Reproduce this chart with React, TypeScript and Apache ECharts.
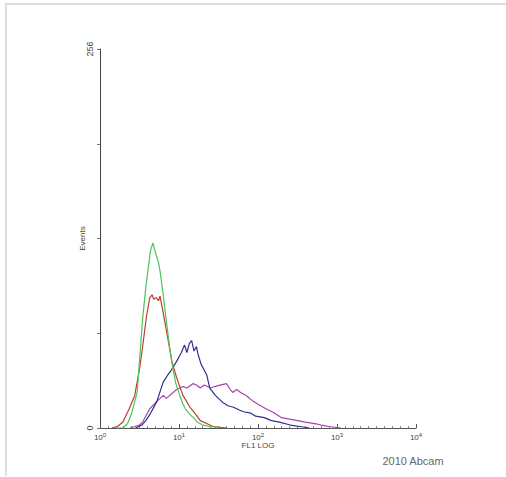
import React, { useEffect, useRef } from "react";
import * as echarts from "echarts";

// x in decades (log10 of FL1), y = events
const greenData: [number, number][] = [[0.2,0],[0.29,0],[0.35,3],[0.4,10],[0.47,24],[0.5,45],[0.54,74],[0.58,95],[0.61,108],[0.64,120],[0.67,125],[0.69,121],[0.71,117],[0.74,112],[0.76,106],[0.8,90],[0.85,68],[0.88,55],[0.92,41],[0.96,30],[1.01,22],[1.05,16],[1.08,13],[1.14,9],[1.2,6],[1.23,4],[1.3,2],[1.4,1],[1.5,0]];
const redData: [number, number][] = [[0.15,0],[0.22,1],[0.29,4],[0.37,13],[0.44,22],[0.5,40],[0.53,51],[0.59,76],[0.63,88],[0.66,90],[0.68,87],[0.71,88],[0.74,86],[0.76,89],[0.8,78],[0.85,63],[0.91,45],[0.97,34],[1.05,22],[1.14,14],[1.2,10],[1.27,5],[1.35,3],[1.43,1],[1.6,0]];
const blueData: [number, number][] = [[0.45,0],[0.53,2],[0.58,5],[0.63,9],[0.72,18],[0.8,31],[0.86,36],[0.89,38],[0.97,45],[1.03,51],[1.07,56],[1.1,51],[1.13,57],[1.16,59],[1.19,52],[1.22,55],[1.24,50],[1.28,43],[1.35,36],[1.39,27],[1.46,22],[1.56,17],[1.62,15],[1.69,14],[1.77,12],[1.82,11],[1.91,10],[1.97,8],[2.08,7],[2.17,5],[2.27,4],[2.41,2],[2.53,1],[2.65,0]];
const magentaData: [number, number][] = [[0.38,0],[0.5,2],[0.54,4],[0.63,13],[0.72,18],[0.8,22],[0.84,20],[0.97,26],[1.05,28],[1.1,27],[1.18,30],[1.22,29],[1.27,27],[1.32,29],[1.4,27],[1.45,28],[1.52,29],[1.6,30],[1.65,26],[1.68,24],[1.73,26],[1.78,24],[1.85,22],[1.94,18],[2.0,16],[2.1,13],[2.18,11],[2.3,7],[2.4,6],[2.5,5],[2.6,4],[2.72,3],[2.8,2],[2.9,1],[3.05,0]];

const yTickLabels = ["0", "256"];
const xAxisTitle = "FL1 LOG";
const yAxisTitle = "Events";
const credit = "2010 Abcam";

export default function App() {
  const ref = useRef<HTMLDivElement>(null);
  useEffect(() => {
    if (!ref.current) return;
    const chart = echarts.init(ref.current, undefined, { renderer: "svg" });
    const font = "Liberation Sans";
    const line = (data: [number, number][], color: string) => ({
      type: "line",
      data,
      showSymbol: false,
      symbol: "none",
      lineStyle: { color, width: 1.2 },
      z: 3,
    });
    chart.setOption({
      animation: false,
      backgroundColor: "#fff",
      grid: { left: 100, right: 90, top: 49, bottom: 49 },
      xAxis: {
        type: "value",
        min: 0,
        max: 4,
        interval: 1,
        name: xAxisTitle,
        nameLocation: "middle",
        nameGap: 13,
        nameMoveOverlap: false,
        nameTextStyle: { fontFamily: font, fontSize: 8, color: "#444" },
        axisLine: { lineStyle: { color: "#555", width: 1 } },
        axisTick: { show: true, inside: true, length: 4, lineStyle: { color: "#555" } },
        minorTick: { show: true, splitNumber: 10, length: 2, lineStyle: { color: "#888" } },
        splitLine: { show: false },
        axisLabel: {
          margin: 4,
          fontFamily: font,
          color: "#444",
          formatter: (v: number) => `{b|10}{s|${v}}`,
          rich: {
            b: { fontSize: 8, fontFamily: font, color: "#444" },
            s: { fontSize: 6, fontFamily: font, color: "#444", verticalAlign: "top", padding: [0, 0, 4, 0] },
          },
        },
      },
      yAxis: {
        type: "value",
        min: 0,
        max: 256,
        interval: 64,
        name: yAxisTitle,
        nameLocation: "middle",
        nameGap: 14,
        nameMoveOverlap: false,
        nameRotate: 90,
        nameTextStyle: { fontFamily: font, fontSize: 8, color: "#444" },
        axisLine: { show: true, lineStyle: { color: "#444", width: 1 } },
        axisTick: { show: true, length: 3, lineStyle: { color: "#777" } },
        splitLine: { show: false },
        axisLabel: {
          rotate: 90,
          margin: 6,
          fontFamily: font,
          fontSize: 9,
          color: "#444",
          formatter: (v: number) => (v === 0 ? yTickLabels[0] : v === 256 ? yTickLabels[1] : ""),
        },
      },
      graphic: [
        { type: "line", shape: { x1: 6, y1: 4, x2: 6, y2: 476 }, style: { stroke: "#dedede", lineWidth: 2 } },
        { type: "line", shape: { x1: 5, y1: 4, x2: 506, y2: 4 }, style: { stroke: "#dedede", lineWidth: 2 } },
        {
          type: "text",
          x: 413,
          y: 461,
          style: { text: credit, fontFamily: font, fontSize: 11, fill: "#666", align: "center", verticalAlign: "middle" },
        },
      ],
      series: [
        line(magentaData, "#a645a8"),
        line(blueData, "#2e2e8c"),
        line(redData, "#b8412c"),
        line(greenData, "#4cc45a"),
      ],
    });
    return () => chart.dispose();
  }, []);
  return <div ref={ref} style={{ position: "fixed", left: 0, top: 0, width: 506, height: 477 }} />;
}
